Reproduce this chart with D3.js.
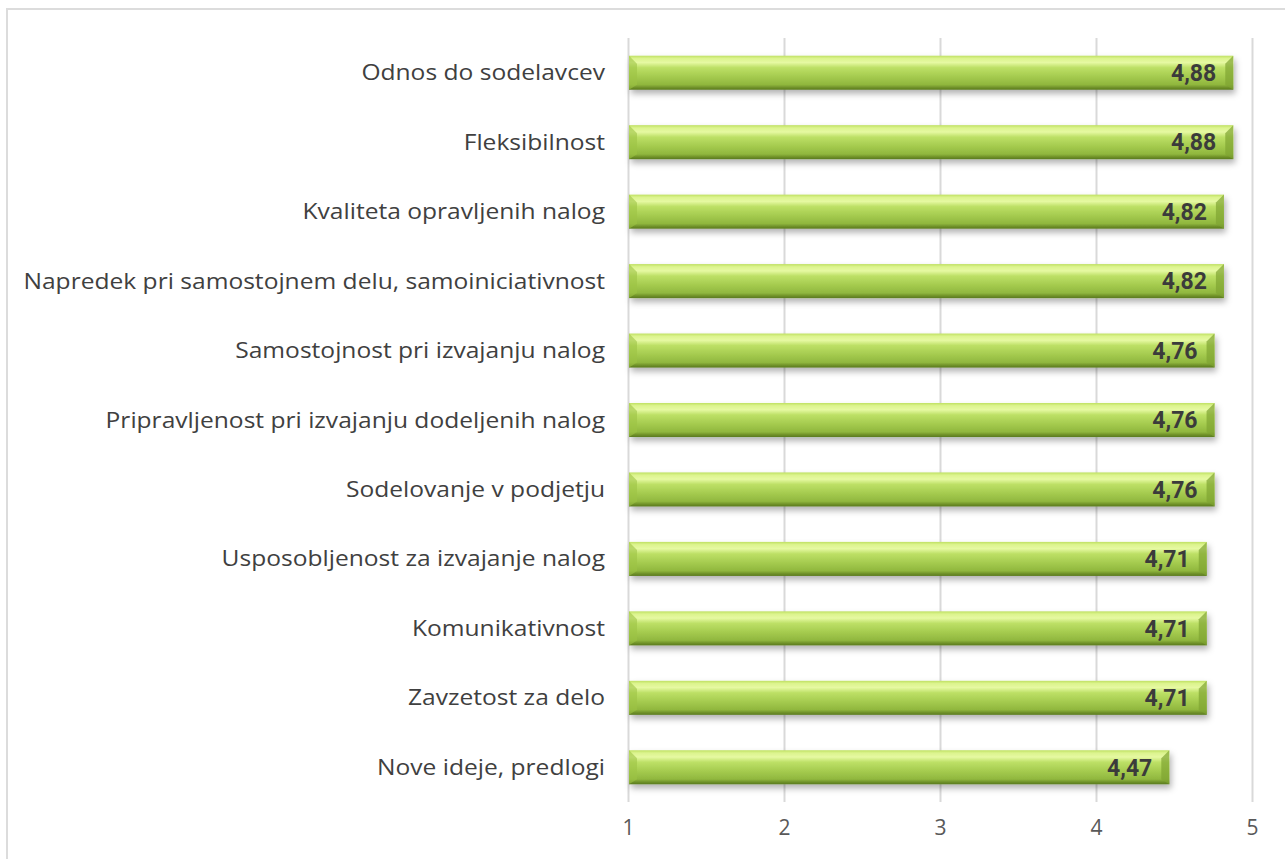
<!DOCTYPE html>
<html>
<head>
<meta charset="utf-8">
<script src="https://cdn.jsdelivr.net/npm/d3@7/dist/d3.min.js"></script>
<style>
  html, body { margin: 0; padding: 0; background: #fff; }
  svg { display: block; }
</style>
</head>
<body>
<svg id="chart" width="1285" height="859"></svg>
<script>
// Ocene posameznih kompetenc (lestvica 1–5)
const categories = [
  "Odnos do sodelavcev",
  "Fleksibilnost",
  "Kvaliteta opravljenih nalog",
  "Napredek pri samostojnem delu, samoiniciativnost",
  "Samostojnost pri izvajanju nalog",
  "Pripravljenost pri izvajanju dodeljenih nalog",
  "Sodelovanje v podjetju",
  "Usposobljenost za izvajanje nalog",
  "Komunikativnost",
  "Zavzetost za delo",
  "Nove ideje, predlogi"
];
const values = [4.88, 4.88, 4.82, 4.82, 4.76, 4.76, 4.76, 4.71, 4.71, 4.71, 4.47];
const tickValues = [1, 2, 3, 4, 5];

const svg = d3.select("#chart");
const W = 1285, H = 859;
const plot = { left: 628, right: 1252, top: 38, bottom: 802 };
const fontFamily = "'Open Sans', 'Noto Sans', sans-serif";

// outer chart frame
svg.append("rect")
  .attr("x", 7).attr("y", 9)
  .attr("width", W + 20).attr("height", H + 20)
  .attr("fill", "none").attr("stroke", "#dcdcdc").attr("stroke-width", 2);

const x = d3.scaleLinear().domain([1, 5]).range([plot.left, plot.right]);
const y = d3.scaleBand().domain(categories).range([plot.top, plot.bottom]).paddingInner(0.51).paddingOuter(0.255);

const defs = svg.append("defs");
const grad = defs.append("linearGradient").attr("id", "barFill")
  .attr("x1", 0).attr("y1", 0).attr("x2", 0).attr("y2", 1);
[
  [0, "#bfe062"], [0.08, "#dcf48e"], [0.2, "#e6f9a2"], [0.35, "#bde066"],
  [0.6, "#a6cc50"], [0.85, "#90b73e"], [0.93, "#71932a"], [1, "#5a7a1e"]
].forEach(([o, c]) => grad.append("stop").attr("offset", o).attr("stop-color", c));

const shadow = defs.append("filter").attr("id", "barShadow")
  .attr("x", "-5%").attr("y", "-30%").attr("width", "110%").attr("height", "180%");
shadow.append("feDropShadow").attr("dx", 2).attr("dy", 4).attr("stdDeviation", 3)
  .attr("flood-color", "#000").attr("flood-opacity", 0.3);

// vertical gridlines
const gx = svg.append("g")
  .attr("transform", `translate(0,${plot.bottom})`)
  .call(d3.axisBottom(x).tickValues(tickValues).tickSize(plot.bottom - plot.top).tickFormat(d3.format("d")));
gx.select(".domain").remove();
gx.selectAll(".tick line")
  .attr("transform", `translate(0,${-(plot.bottom - plot.top)})`)
  .attr("stroke", "#d9d9d9").attr("stroke-width", 2);
gx.selectAll(".tick text")
  .attr("y", 0).attr("dy", "1.55em")
  .attr("fill", "#595959").attr("font-size", 21).attr("font-family", fontFamily);

// bars
const bars = svg.append("g").selectAll("g").data(values).join("g")
  .attr("transform", (d, i) => `translate(0,${y(categories[i])})`);
const bh = y.bandwidth();

bars.append("rect")
  .attr("x", x(1) + 1).attr("y", 0)
  .attr("width", d => x(d) - x(1) - 1).attr("height", bh)
  .attr("fill", "url(#barFill)").attr("filter", "url(#barShadow)");

// bevel at the bar ends
bars.append("path")
  .attr("d", d => `M${x(1) + 1},0 L${x(1) + 9},8 L${x(1) + 9},${bh - 5} L${x(1) + 1},${bh} Z`)
  .attr("fill", "#9cc345").attr("opacity", 0.6);
bars.append("path")
  .attr("d", d => `M${x(d)},0 L${x(d) - 8},8 L${x(d) - 8},${bh - 5} L${x(d)},${bh} Z`)
  .attr("fill", "#7fa432").attr("opacity", 0.7);

// value labels
bars.append("text")
  .attr("x", d => x(d) - 17).attr("y", bh / 2).attr("dy", "0.36em")
  .attr("text-anchor", "end")
  .attr("fill", "#3b3b3b").attr("font-weight", "bold").attr("font-size", 23)
  .attr("font-family", "Roboto, sans-serif")
  .text(d => d.toFixed(2).replace(".", ","));

// category labels, widened to the proportions of a geometric face
const labelStretch = 1.17;
svg.append("g").selectAll("text").data(categories).join("text")
  .attr("x", 605).attr("y", d => y(d) + bh / 2).attr("dy", "0.36em")
  .attr("text-anchor", "end")
  .attr("fill", "#404040").attr("font-size", 21)
  .attr("font-family", fontFamily)
  .text(d => d)
  .each(function () {
    const w = this.getComputedTextLength();
    d3.select(this).attr("textLength", w * labelStretch).attr("lengthAdjust", "spacingAndGlyphs");
  });
</script>
</body>
</html>
